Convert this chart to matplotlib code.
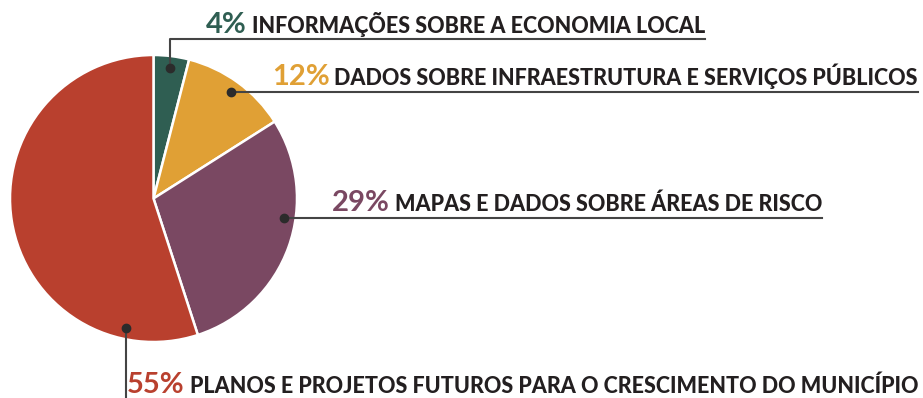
import matplotlib
matplotlib.use("Agg")
import matplotlib.pyplot as plt
import numpy as np

shares = [4, 12, 29, 55]
labels = ["INFORMAÇÕES SOBRE A ECONOMIA LOCAL",
          "DADOS SOBRE INFRAESTRUTURA E SERVIÇOS PÚBLICOS",
          "MAPAS E DADOS SOBRE ÁREAS DE RISCO",
          "PLANOS E PROJETOS FUTUROS PARA O CRESCIMENTO DO MUNICÍPIO"]
colors = ["#2f5e52", "#e0a035", "#7a4862", "#b9402e"]

# leader dot angle (deg) on each wedge, and where the text line ends (px)
dot_angles = [82.8, 54.0, -8.7, -102.0]
line_y = [39, 92, 218, None]
line_end = [705, 918, 822, 918]
text_y = [33, 85, 211, 393]

W, H = 923, 398
fig = plt.figure(figsize=(W / 100, H / 100), dpi=100)
ax = fig.add_axes([0, 0, 1, 1])

cx, cy, R = 153.5, 198.5, 143.5
# pie on a y-down axis: counterclock=True runs clockwise on screen
ax.pie(shares, colors=colors, startangle=-90, counterclock=True,
       center=(cx, cy), radius=R, frame=True,
       wedgeprops=dict(edgecolor="white", linewidth=1.8))
ax.set_xlim(0, W)
ax.set_ylim(H, 0)
ax.axis("off")

fig.canvas.draw()
renderer = fig.canvas.get_renderer()
inv = ax.transData.inverted()

line_col = "#444444"
for i in range(4):
    a = np.deg2rad(dot_angles[i])
    dx = cx + 0.92 * R * np.cos(a)
    dy = cy - 0.92 * R * np.sin(a)
    ax.plot(dx, dy, "o", color="#2b2b2b", ms=6, zorder=5)
    if line_y[i] is None:
        ax.plot([dx, dx], [dy, H + 2], color=line_col, lw=1.5, zorder=4)
    elif abs(line_y[i] - dy) > 3:
        ax.plot([dx, dx, line_end[i]], [dy, line_y[i], line_y[i]],
                color=line_col, lw=1.5, zorder=4)
    else:
        ax.plot([dx, line_end[i]], [dy, dy], color=line_col, lw=1.5, zorder=4)

    t = ax.text(line_end[i], text_y[i], labels[i], ha="right", va="baseline",
                fontsize=15.5, fontweight="black", family="Lato",
                color="#231f20")
    bb = t.get_window_extent(renderer)
    x0 = inv.transform((bb.x0, bb.y0))[0]
    ax.text(x0 - 5, text_y[i], f"{shares[i]}%", ha="right", va="baseline",
            fontsize=21, fontweight="bold", family="Lato", color=colors[i])

fig.savefig("out.png", dpi=100)
